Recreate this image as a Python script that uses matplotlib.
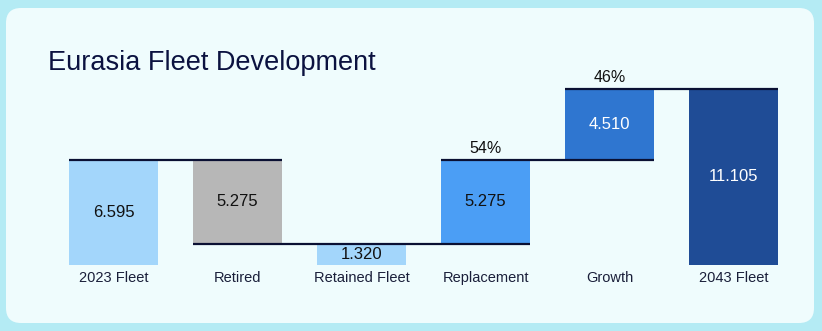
import matplotlib.pyplot as plt
from matplotlib.patches import FancyBboxPatch

plt.rcParams["font.family"] = ["Liberation Sans", "DejaVu Sans"]

categories = ["2023 Fleet", "Retired", "Retained Fleet", "Replacement", "Growth", "2043 Fleet"]
values = [6.595, 5.275, 1.320, 5.275, 4.510, 11.105]
colors = ["#a3d6fb", "#b7b7b7", "#a3d6fb", "#4b9ef5", "#2f76d0", "#1f4c96"]
text_colors = ["#111111", "#111111", "#111111", "#111111", "white", "white"]

# waterfall bases
bases = [0, values[2], 0, values[2], values[2] + values[3], 0]
tops = [b + v for b, v in zip(bases, values)]

# share of new deliveries
new_total = values[3] + values[4]
shares = {3: values[3] / new_total, 4: values[4] / new_total}

# connectors: (level, first bar, last bar)
connectors = [(tops[0], 0, 1), (bases[1], 1, 3), (tops[3], 3, 4), (tops[4], 4, 5)]

fig = plt.figure(figsize=(8.22, 3.31), dpi=100)
fig.patch.set_facecolor("#b4ebf4")

# background card in pixel coordinates
bg = fig.add_axes([0, 0, 1, 1], zorder=0)
bg.set_xlim(0, 822)
bg.set_ylim(331, 0)
bg.axis("off")
bg.add_patch(FancyBboxPatch((6, 8), 808, 315, boxstyle="round,pad=0,rounding_size=15",
                            facecolor="#effcfd", edgecolor="none"))
bg.text(48, 70, "Eurasia Fleet Development", fontsize=19.5,
        color="#0b1240", va="baseline", ha="left")

ax = fig.add_axes([51.5 / 822, 66.5 / 331, 744 / 822, 197.5 / 331], zorder=1)
ax.set_facecolor("none")
width = 0.72
x = list(range(len(categories)))
ax.bar(x, values, bottom=bases, width=width, color=colors, zorder=2)

for i, v in enumerate(values):
    ax.text(i, bases[i] + v / 2, f"{v:.3f}", ha="center", va="center",
            fontsize=12, color=text_colors[i], zorder=4)

for lvl, a, b in connectors:
    ax.plot([a - width / 2, b + width / 2], [lvl, lvl], color="#0a1033",
            lw=1.6, solid_capstyle="butt", zorder=3)

for i, s in shares.items():
    ax.annotate(f"{s:.0%}", (i, tops[i]), xytext=(0, 3), textcoords="offset points",
                ha="center", va="bottom", fontsize=11.5, color="#111111")

ax.set_xlim(-0.5, 5.5)
ax.set_ylim(0, 12.5)
ax.set_xticks(x)
ax.set_xticklabels(categories, fontsize=10.5, color="#1a1f3a")
ax.tick_params(axis="x", length=0, pad=5)
ax.set_yticks([])
for sp in ax.spines.values():
    sp.set_visible(False)

fig.savefig("out.png", dpi=100, facecolor=fig.get_facecolor())
